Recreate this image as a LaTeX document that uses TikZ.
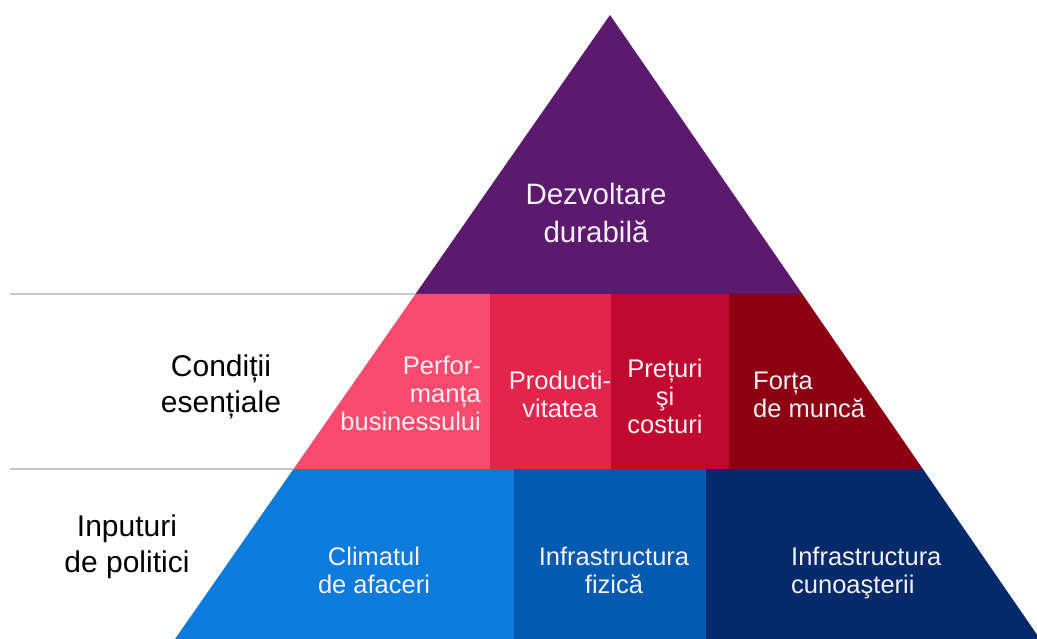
\documentclass[tikz,border=0pt]{standalone}
\usepackage{fontspec}
\setmainfont{Liberation Sans}
\usetikzlibrary{calc}
\definecolor{cpurple}{HTML}{5C1A6E}
\definecolor{cpink}{HTML}{FA4B6E}
\definecolor{cprod}{HTML}{E3244B}
\definecolor{cpret}{HTML}{C1092F}
\definecolor{cforta}{HTML}{8D0012}
\definecolor{cclim}{HTML}{0C7BDC}
\definecolor{cfiz}{HTML}{0459B0}
\definecolor{ccun}{HTML}{042A6C}
\definecolor{ctext}{HTML}{F4F0F6}
\definecolor{cline}{HTML}{A8A8A8}
\tikzset{
  inlab/.style={text=ctext, inner sep=0pt, align=center, font=\fontsize{25.5}{28}\selectfont},
  toplab/.style={text=ctext, inner sep=0pt, align=center, font=\fontsize{29.5}{38}\selectfont},
  sidelab/.style={text=black, inner sep=0pt, align=center, font=\fontsize{30}{36}\selectfont},
  sepline/.style={draw=cline, line width=1.4pt}
}
\begin{document}
\begin{tikzpicture}[x=1pt,y=-1pt]
\useasboundingbox (0,0) rectangle (1037,639);
\fill[white] (0,0) rectangle (1037,639);
\begin{scope}
\clip (0,0) rectangle (1037,639);
\coordinate (A) at (610,15);
\coordinate (BL) at (175,639);
\coordinate (BR) at (1040,639);
\coordinate (L1) at ($(A)!0.4471!(BL)$);
\coordinate (R1) at ($(A)!0.4471!(BR)$);
\coordinate (L2) at ($(A)!0.7276!(BL)$);
\coordinate (R2) at ($(A)!0.7276!(BR)$);
% top
\fill[cpurple] (A) -- (L1) -- (R1) -- cycle;
% middle band
\fill[cpink] (L1) -- (490,294) -- (490,469) -- (L2) -- cycle;
\fill[cprod] (490,294) rectangle (611,469);
\fill[cpret] (611,294) rectangle (729,469);
\fill[cforta] (729,294) -- (R1) -- (R2) -- (729,469) -- cycle;
% bottom band
\fill[cclim] (L2) -- (514,469) -- (514,639) -- (BL) -- cycle;
\fill[cfiz] (514,469) rectangle (706,639);
\fill[ccun] (706,469) -- (R2) -- (BR) -- (706,639) -- cycle;
\end{scope}
% separator lines
\coordinate (S1) at (10,294);
\coordinate (S2) at (10,469);
\draw[sepline] (S1) -- (L1);
\draw[sepline] (S2) -- (L2);
% labels (anchor=base is the baseline of the last line)
\node[toplab, anchor=base] (dez) at (596,243) {Dezvoltare\\durabilă};
\node[sidelab, anchor=base] (cond) at (221,412) {Condiții\\esențiale};
\node[sidelab, anchor=base] (inp) at (127,572) {Inputuri\\de politici};
\node[inlab, anchor=base east, align=right] (perf) at (481,430) {Perfor-\\manța\hspace*{7pt}\\businessului};
\node[inlab, anchor=base] (prod) at (560,417) {Producti-\\vitatea};
\node[inlab, anchor=base] (pret) at (665,433) {Prețuri\\şi\\costuri};
\node[inlab, anchor=base west, align=left] (forta) at (753,417) {Forța\\de muncă};
\node[inlab, anchor=base] (clim) at (374,593) {Climatul\\de afaceri};
\node[inlab, anchor=base] (fiz) at (614,593) {Infrastructura\\fizică};
\node[inlab, anchor=base west, align=left] (cun) at (791,593) {Infrastructura\\cunoaşterii};
\end{tikzpicture}
\end{document}
